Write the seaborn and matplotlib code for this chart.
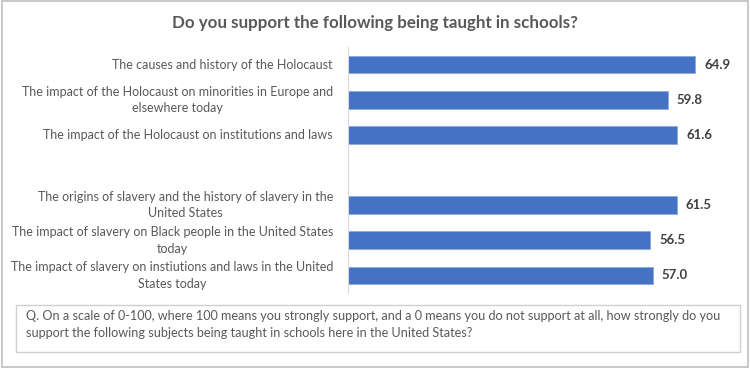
import numpy as np
import pandas as pd
import matplotlib
matplotlib.use("Agg")
import matplotlib.pyplot as plt
import matplotlib.transforms as mtransforms
import seaborn as sns
from matplotlib.patches import Rectangle

# data
topics = [
    "The causes and history of the Holocaust",
    "The impact of the Holocaust on minorities in Europe and\nelsewhere today",
    "The impact of the Holocaust on institutions and laws",
    " ",
    "The origins of slavery and the history of slavery in the\nUnited States",
    "The impact of slavery on Black people in the United States\ntoday",
    "The impact of slavery on instiutions and laws in the United\nStates today",
]
scores = [64.9, 59.8, 61.6, np.nan, 61.5, 56.5, 57.0]

title = "Do you support the following being taught in schools?"
note = ("Q. On a scale of 0-100, where 100 means you strongly support, and a 0 means you do not support at all, how strongly do you\n"
        "support the following subjects being taught in schools here in the United States?")

sns.set_style("white")
plt.rcParams["font.family"] = ["Lato", "DejaVu Sans"]

df = pd.DataFrame({"topic": topics, "score": scores})

fig = plt.figure(figsize=(7.5, 3.68), dpi=100)
ax = fig.add_axes([0.464, 0.204, 0.499, 0.668])

sns.barplot(data=df, x="score", y="topic", order=topics, orient="h",
            color="#4472C4", saturation=1, width=0.5, edgecolor="#8faadc",
            linewidth=0.6, ax=ax)

ax.set_xlim(0, 70)
ax.set_ylim(len(topics) - 0.5, -0.5)
ax.set_xlabel("")
ax.set_ylabel("")
ax.set_xticks([])
ax.tick_params(axis="y", length=0, labelleft=False)

# category labels, right aligned, wrapped lines centred
trans = mtransforms.blended_transform_factory(ax.transAxes, ax.transData)
for i, t in enumerate(topics):
    ax.text(-15 / 374, i, t, transform=trans, ha="right", va="center",
            multialignment="center", fontsize=9, color="#595959",
            linespacing=1.45)

for side in ["top", "right", "bottom"]:
    ax.spines[side].set_visible(False)
ax.spines["left"].set_color("#d9d9d9")
ax.spines["left"].set_linewidth(0.8)

# value labels at the bar ends
for p in ax.patches:
    w = p.get_width()
    if np.isfinite(w) and w > 0:
        ax.text(w + 1.7, p.get_y() + p.get_height() / 2, f"{w:.1f}",
                va="center", ha="left", fontsize=9.5, fontweight="bold",
                color="#404040")

fig.text(0.5, 1 - 23 / 368, title, ha="center", va="center", fontsize=12.2,
         fontweight="bold", color="#595959")

# note box
fig.patches.append(Rectangle((16 / 750, 1 - 352 / 368), 724 / 750, 47 / 368,
                             transform=fig.transFigure, fill=False,
                             edgecolor="#d0d0d0", linewidth=1))
fig.text(26 / 750, 1 - 324.5 / 368, note, ha="left", va="center", fontsize=9.1,
         color="#595959", linespacing=1.45)

# outer frame
fig.patches.append(Rectangle((0.002, 0.003), 0.995, 0.994,
                             transform=fig.transFigure, fill=False,
                             edgecolor="#bfbfbf", linewidth=1.2))

fig.savefig("out.png", dpi=100, facecolor="white")
